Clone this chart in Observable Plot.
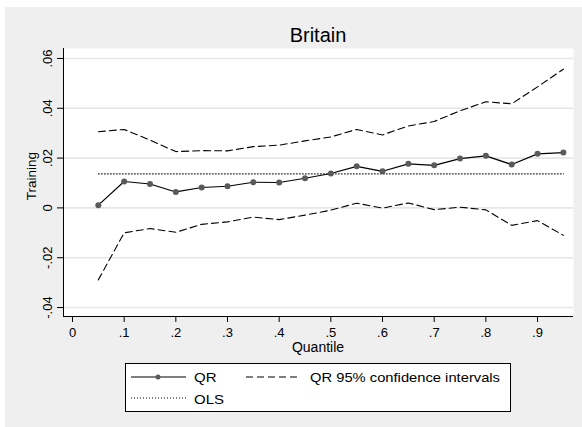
<!DOCTYPE html>
<html>
<head>
<meta charset="utf-8">
<script src="https://cdn.jsdelivr.net/npm/d3@7"></script>
<script src="https://cdn.jsdelivr.net/npm/@observablehq/plot@0.6"></script>
<style>
  body { margin: 0; background: #ffffff; }
  svg { font-family: "Liberation Sans", Arial, sans-serif; }
</style>
</head>
<body>
<div id="chart"></div>
<script>
const quantiles = [0.05,0.10,0.15,0.20,0.25,0.30,0.35,0.40,0.45,0.50,0.55,0.60,0.65,0.70,0.75,0.80,0.85,0.90,0.95];
const qr    = [0.0011,0.0106,0.0096,0.0064,0.0082,0.0087,0.0103,0.0102,0.0119,0.0138,0.0167,0.0147,0.0177,0.0171,0.0198,0.0209,0.0174,0.0217,0.0222];
const upper = [0.0306,0.0315,0.0272,0.0226,0.0230,0.0229,0.0246,0.0252,0.0269,0.0285,0.0315,0.0293,0.0329,0.0347,0.0390,0.0426,0.0418,0.0486,0.0557];
const lower = [-0.0289,-0.0100,-0.0083,-0.0098,-0.0066,-0.0056,-0.0037,-0.0047,-0.0029,-0.0009,0.0019,-0.0001,0.0020,-0.0007,0.0003,-0.0008,-0.0070,-0.0051,-0.0110];
const olsValue = 0.01365;
const xTicks = [0,0.1,0.2,0.3,0.4,0.5,0.6,0.7,0.8,0.9];
const xTickLabels = ["0",".1",".2",".3",".4",".5",".6",".7",".8",".9"];
const yTicks = [-0.04,-0.02,0,0.02,0.04,0.06];
const yTickLabels = ["-.04","-.02","0",".02",".04",".06"];
const xDomain = [-0.0174, 0.9696];
const yDomain = [-0.0436, 0.064];

const rows = quantiles.map((q,i) => ({q, qr: qr[i], upper: upper[i], lower: lower[i]}));
const olsRows = [{q: quantiles[0], v: olsValue}, {q: quantiles[quantiles.length-1], v: olsValue}];

const plot = Plot.plot({
  width: 582,
  height: 427,
  marginLeft: 63,
  marginRight: 9,
  marginTop: 48,
  marginBottom: 111,
  style: {background: "#ffffff", fontSize: "13px", fontFamily: "Liberation Sans, Arial, sans-serif", color: "#000"},
  x: {domain: xDomain},
  y: {domain: yDomain},
  marks: [
    Plot.frame({fill: "#ffffff", stroke: null}),
    Plot.gridY(yTicks, {stroke: "#e6e6e6", strokeOpacity: 1, strokeWidth: 1.6}),
    Plot.ruleX([xDomain[0]], {stroke: "#000", strokeWidth: 1}),
    Plot.ruleY([yDomain[0]], {stroke: "#000", strokeWidth: 1}),
    Plot.axisX(xTicks, {tickSize: 6, tickPadding: 5, tickFormat: (d) => xTickLabels[xTicks.indexOf(d)], fontSize: 13, label: null}),
    Plot.axisY(yTicks, {tickSize: 6, tickFormat: () => "", label: null}),
    Plot.text(yTicks, {y: d => d, text: d => yTickLabels[yTicks.indexOf(d)], frameAnchor: "left", dx: -15.5, rotate: -90, textAnchor: "middle", lineAnchor: "middle", fontSize: 13, fill: "#000"}),
    Plot.line(olsRows, {x: "q", y: "v", stroke: "#000", strokeWidth: 1, strokeDasharray: "1,2"}),
    Plot.line(rows, {x: "q", y: "upper", stroke: "#000", strokeWidth: 1.1, strokeDasharray: "7,4"}),
    Plot.line(rows, {x: "q", y: "lower", stroke: "#000", strokeWidth: 1.1, strokeDasharray: "7,4"}),
    Plot.line(rows, {x: "q", y: "qr", stroke: "#000", strokeWidth: 1.2}),
    Plot.dot(rows, {x: "q", y: "qr", r: 3, fill: "#5a5a5a", stroke: null})
  ]
});

document.getElementById("chart").appendChild(plot);
const svg = d3.select(plot);
svg.insert("rect", ":first-child").attr("x", 5).attr("y", 7).attr("width", 577).attr("height", 420).attr("fill", "#efefef");

svg.append("text").attr("x", 318).attr("y", 42).attr("text-anchor", "middle").attr("font-size", 20).attr("fill", "#000").text("Britain");
svg.append("text").attr("x", 318).attr("y", 352).attr("text-anchor", "middle").attr("font-size", 14).attr("fill", "#000").text("Quantile");
svg.append("text").attr("transform", "translate(36,176) rotate(-90)").attr("text-anchor", "middle").attr("font-size", 13.5).attr("fill", "#000").text("Training");

const lg = svg.append("g").attr("text-anchor", "start");
lg.append("rect").attr("x", 125.5).attr("y", 363.5).attr("width", 385).attr("height", 48).attr("fill", "#fff").attr("stroke", "#000").attr("stroke-width", 1);
lg.append("line").attr("x1", 131).attr("x2", 186).attr("y1", 377).attr("y2", 377).attr("stroke", "#000").attr("stroke-width", 1.2);
lg.append("circle").attr("cx", 158).attr("cy", 377).attr("r", 2.5).attr("fill", "#5a5a5a");
lg.append("text").attr("x", 194).attr("y", 381.5).attr("text-anchor", "start").attr("font-size", 13).attr("textLength", 22.5).attr("lengthAdjust", "spacingAndGlyphs").attr("fill", "#000").text("QR");
lg.append("line").attr("x1", 246).attr("x2", 300).attr("y1", 377).attr("y2", 377).attr("stroke", "#000").attr("stroke-width", 1.1).attr("stroke-dasharray", "7,4");
lg.append("text").attr("x", 310).attr("y", 381.5).attr("text-anchor", "start").attr("font-size", 13).attr("textLength", 190).attr("lengthAdjust", "spacingAndGlyphs").attr("fill", "#000").text("QR 95% confidence intervals");
lg.append("line").attr("x1", 131).attr("x2", 186).attr("y1", 398).attr("y2", 398).attr("stroke", "#000").attr("stroke-width", 1).attr("stroke-dasharray", "1,2");
lg.append("text").attr("x", 194).attr("y", 403.5).attr("text-anchor", "start").attr("font-size", 13).attr("textLength", 30).attr("lengthAdjust", "spacingAndGlyphs").attr("fill", "#000").text("OLS");
</script>
</body>
</html>
